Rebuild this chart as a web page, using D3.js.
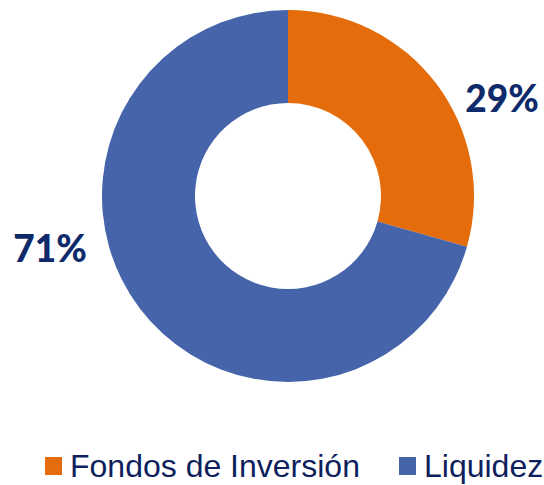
<!DOCTYPE html>
<html><head><meta charset="utf-8">
<script src="https://cdn.jsdelivr.net/npm/d3@7"></script>
<style>html,body{margin:0;padding:0;background:#fff;}svg{display:block;}</style>
</head><body>
<svg id="chart" width="544" height="485"></svg>
<script>
const categories = ["Fondos de Inversión", "Liquidez"];
const values = [29.4, 70.6];
const labels = ["29%", "71%"];
const colors = ["#E46C0A", "#4564AA"];

const svg = d3.select("#chart");
const cx = 288, cy = 196, outerR = 186, innerR = 93;

const pie = d3.pie().sort(null).value(d => d)(values);
const arc = d3.arc().innerRadius(innerR).outerRadius(outerR);

const g = svg.append("g").attr("transform", `translate(${cx},${cy})`);
g.selectAll("path").data(pie).enter().append("path")
  .attr("d", arc)
  .attr("fill", (d, i) => colors[i]);

// data labels (outside, best-fit placement)
const labelPos = [[502, 112], [50, 262]];
svg.selectAll("text.lbl").data(labels).enter().append("text")
  .attr("class", "lbl")
  .attr("x", (d, i) => labelPos[i][0])
  .attr("y", (d, i) => labelPos[i][1])
  .attr("text-anchor", "middle")
  .attr("font-family", "Lato, 'Open Sans', sans-serif")
  .attr("font-weight", 900)
  .attr("font-size", 37)
  .attr("fill", "#0E2A6B")
  .text(d => d);

// legend
const legendX = [45, 399];
const lg = svg.selectAll("g.leg").data(categories).enter().append("g")
  .attr("class", "leg")
  .attr("transform", (d, i) => `translate(${legendX[i]},0)`);
lg.append("rect").attr("x", 0).attr("y", 457).attr("width", 17).attr("height", 18)
  .attr("fill", (d, i) => colors[i]);
lg.append("text").attr("x", 25).attr("y", 477)
  .attr("font-family", "'Liberation Sans', Arial, sans-serif")
  .attr("font-size", 32)
  .attr("fill", "#0D1F5C")
  .text(d => d);
</script>
</body></html>
